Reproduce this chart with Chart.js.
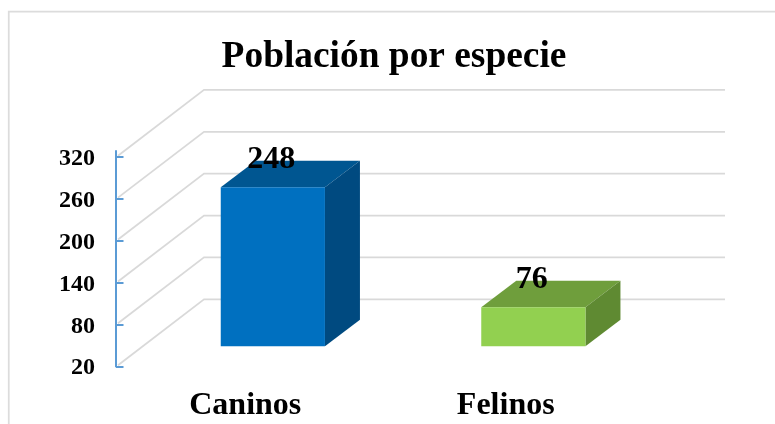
<!DOCTYPE html>
<html><head><meta charset="utf-8">
<style>html,body{margin:0;padding:0;background:#fff}canvas{display:block}</style>
<script src="https://cdn.jsdelivr.net/npm/chart.js@4"></script>
</head><body><canvas id="c" width="775" height="424"></canvas>
<script>
const titleText = 'Población por especie';
const categories = ['Caninos', 'Felinos'];
const poblacion = [248, 76];
const frontColors = ['#0070c0', '#92d050'];
const topColors = ['#005691', '#6f9e3c'];
const sideColors = ['#004a80', '#5f8a32'];
const yMin = 20, yMax = 320, yStep = 60;
const font = 'Liberation Serif';

const WALL = {dx: 88, dy: -67.4, right: 725};
const BAR = {shiftX: 26.6, shiftY: -20.4, dx: 35, dy: -26.5};

const scene3d = {
  id: 'scene3d',
  afterLayout(chart) {
    chart.titleBlock.left += 75.5;
    chart.titleBlock.right += 75.5;
  },
  beforeDraw(chart) {
    const c = chart.ctx;
    c.save();
    c.fillStyle = '#fff';
    c.fillRect(0, 0, 775, 424);
    c.strokeStyle = '#dcdcdc';
    c.lineWidth = 1.75;
    c.beginPath();
    c.moveTo(8.75, 424); c.lineTo(8.75, 11.5); c.lineTo(775, 11.5);
    c.stroke();
    c.restore();
  },
  beforeDatasetsDraw(chart) {
    const c = chart.ctx, y = chart.scales.y, a = chart.chartArea;
    c.save();
    c.strokeStyle = '#d9d9d9';
    c.lineWidth = 1.75;
    y.ticks.forEach(t => {
      const py = y.getPixelForValue(t.value);
      c.beginPath();
      c.moveTo(a.left + 2, py - 1.5);
      c.lineTo(a.left + WALL.dx, py + WALL.dy);
      c.lineTo(WALL.right, py + WALL.dy);
      c.stroke();
    });
    c.strokeStyle = '#5b9bd5';
    c.lineWidth = 2;
    c.beginPath();
    c.moveTo(a.left, a.top - 7);
    c.lineTo(a.left, a.bottom + 0.5);
    y.ticks.forEach(t => {
      const py = Math.round(y.getPixelForValue(t.value));
      c.moveTo(a.left, py);
      c.lineTo(a.left + 7.5, py);
    });
    c.stroke();
    c.restore();

    c.save();
    c.translate(BAR.shiftX, BAR.shiftY);
    chart.getDatasetMeta(0).data.forEach((b, i) => {
      const l = b.x - b.width / 2, r = b.x + b.width / 2;
      c.fillStyle = topColors[i];
      c.beginPath();
      c.moveTo(l, b.y); c.lineTo(l + BAR.dx, b.y + BAR.dy);
      c.lineTo(r + BAR.dx, b.y + BAR.dy); c.lineTo(r, b.y);
      c.closePath(); c.fill();
      c.fillStyle = sideColors[i];
      c.beginPath();
      c.moveTo(r, b.y); c.lineTo(r + BAR.dx, b.y + BAR.dy);
      c.lineTo(r + BAR.dx, b.base + BAR.dy); c.lineTo(r, b.base);
      c.closePath(); c.fill();
    });
    c.restore();
    c.save();
    c.translate(BAR.shiftX, BAR.shiftY);
  },
  afterDatasetsDraw(chart) {
    const c = chart.ctx;
    c.restore();
    c.save();
    c.translate(BAR.shiftX, BAR.shiftY);
    c.fillStyle = '#000';
    c.font = 'bold 32px "' + font + '"';
    c.textAlign = 'center';
    c.textBaseline = 'middle';
    chart.getDatasetMeta(0).data.forEach((b, i) => {
      c.fillText(String(poblacion[i]), b.x - 1.5, b.y - 27.5);
    });
    c.restore();
  }
};

new Chart(document.getElementById('c'), {
  type: 'bar',
  plugins: [scene3d],
  data: {
    labels: categories,
    datasets: [{
      data: poblacion,
      base: yMin,
      backgroundColor: frontColors,
      borderWidth: 0,
      categoryPercentage: 1,
      barPercentage: 0.4,
      clip: false
    }]
  },
  options: {
    responsive: false,
    animation: false,
    layout: {padding: {left: 0, right: 138, top: 0, bottom: 0}},
    plugins: {
      legend: {display: false},
      tooltip: {enabled: false},
      title: {
        display: true,
        text: titleText,
        color: '#000',
        font: {family: font, size: 37.4, weight: 'bold'},
        padding: {top: 35, bottom: 77.4}
      }
    },
    scales: {
      x: {
        grid: {display: false},
        border: {display: false},
        afterFit: s => { s.height = 57.3; },
        ticks: {
          color: '#000',
          padding: 12,
          labelOffset: -1,
          maxRotation: 0,
          autoSkip: false,
          font: {family: font, size: 32, weight: 'bold'}
        }
      },
      y: {
        min: yMin,
        max: yMax,
        grid: {display: false},
        border: {display: false},
        afterFit: s => { s.width = 116; },
        ticks: {
          stepSize: yStep,
          color: '#000',
          padding: 13,
          labelOffset: 1.5,
          font: {family: font, size: 24, weight: 'bold'}
        }
      }
    }
  }
});
</script></body></html>
